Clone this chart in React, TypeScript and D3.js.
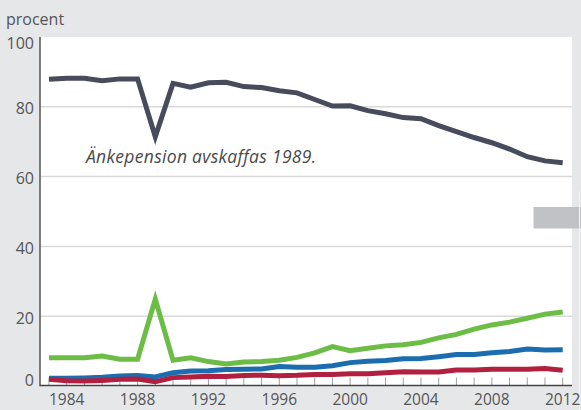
import React from "react";
import * as d3 from "d3";

const years = d3.range(1983, 2013);
const darkSeries = [87.9, 88.2, 88.2, 87.5, 88.0, 88.0, 71.4, 86.7, 85.6, 86.9, 87.0, 85.8, 85.5, 84.6, 84.0, 82.1, 80.2, 80.3, 78.9, 78.0, 76.9, 76.6, 74.6, 72.9, 71.2, 69.7, 67.9, 65.7, 64.5, 64.0];
const greenSeries = [8.1, 8.1, 8.1, 8.6, 7.7, 7.7, 24.9, 7.4, 8.1, 7.0, 6.3, 6.9, 7.0, 7.4, 8.2, 9.5, 11.3, 10.1, 10.8, 11.5, 11.8, 12.5, 13.8, 14.8, 16.3, 17.5, 18.3, 19.4, 20.6, 21.2];
const blueSeries = [2.2, 2.2, 2.3, 2.5, 2.9, 3.0, 2.6, 3.8, 4.3, 4.4, 4.7, 4.8, 4.9, 5.6, 5.4, 5.4, 5.8, 6.7, 7.1, 7.3, 7.8, 7.9, 8.4, 9.0, 9.0, 9.5, 9.9, 10.6, 10.3, 10.4];
const redSeries = [1.9, 1.5, 1.4, 1.6, 1.9, 2.0, 1.2, 2.4, 2.6, 2.8, 2.7, 3.0, 3.1, 2.95, 3.05, 3.3, 3.3, 3.5, 3.5, 3.8, 4.1, 4.0, 4.0, 4.6, 4.6, 4.8, 4.8, 4.8, 5.0, 4.5];
const yTicks = [0, 20, 40, 60, 80, 100];
const xTickLabels = [1984, 1988, 1992, 1996, 2000, 2004, 2008, 2012];
const annotation = "Änkepension avskaffas 1989.";
const yUnit = "procent";

const seriesList = [
  { values: darkSeries, color: "#474b5b" },
  { values: greenSeries, color: "#6cbd45" },
  { values: blueSeries, color: "#1b6db0" },
  { values: redSeries, color: "#b1213f" },
];

export default function App() {
  const W = 581, H = 410;
  const plotL = 40, plotR = 572, plotT = 37, plotB = 385.5;
  const x = d3.scaleLinear().domain([1983, 2012]).range([49, 562.7]);
  const y = d3.scaleLinear().domain([0, 100]).range([386, 37]);
  const line = d3.line<number>().x((_, i) => x(years[i])).y((d) => y(d)).curve(d3.curveLinear);
  const font = "'Open Sans', 'Noto Sans', sans-serif";

  return (
    <svg width={W} height={H} style={{ position: "absolute", left: 0, top: 0, display: "block" }}>
      <rect x={0} y={0} width={W} height={H} fill="#e6e7e9" />
      <rect x={plotL} y={plotT} width={plotR - plotL} height={plotB - plotT} fill="#ffffff" />
      {yTicks.filter((t) => t > 0 && t < 100).map((t) => (
        <line key={t} x1={plotL} x2={plotR} y1={y(t)} y2={y(t)} stroke="#d9d9d9" strokeWidth={1.5} />
      ))}
      {years.map((yr) => (
        <line key={yr} x1={x(yr)} x2={x(yr)} y1={plotB - 8} y2={plotB} stroke="#a0a0a0" strokeWidth={1} />
      ))}
      <rect x={533.5} y={207} width={W - 533.5} height={21.5} fill="#c1c2c5" />
      <line x1={579.5} x2={579.5} y1={190} y2={H} stroke="#f2f2f3" strokeWidth={1} />
      {seriesList.map((s, i) => (
        <path key={i} d={line(s.values) || ""} fill="none" stroke={s.color} strokeWidth={5} strokeLinejoin="miter" strokeMiterlimit={4} />
      ))}
      <line x1={plotL} x2={plotL} y1={plotT} y2={plotB + 0.75} stroke="#555" strokeWidth={1.5} />
      <line x1={plotL} x2={plotR} y1={plotB} y2={plotB} stroke="#444" strokeWidth={1.5} />
      {yTicks.map((t) => (
        <text key={t} x={34} y={Math.min(Math.max(y(t) + 2, 43), 380)} dy="0.35em" textAnchor="end" fontFamily={font} fontSize={16} fill="#555">
          {t}
        </text>
      ))}
      {xTickLabels.map((t) => (
        <text key={t} x={x(t)} y={405} textAnchor="middle" fontFamily={font} fontSize={15.5} fill="#555">
          {t}
        </text>
      ))}
      <text x={6} y={25} fontFamily={font} fontSize={16} fill="#555">{yUnit}</text>
      <text x={86} y={163} fontFamily={font} fontSize={17.5} letterSpacing={0.3} fontStyle="italic" fill="#4a4a4a">{annotation}</text>
    </svg>
  );
}
